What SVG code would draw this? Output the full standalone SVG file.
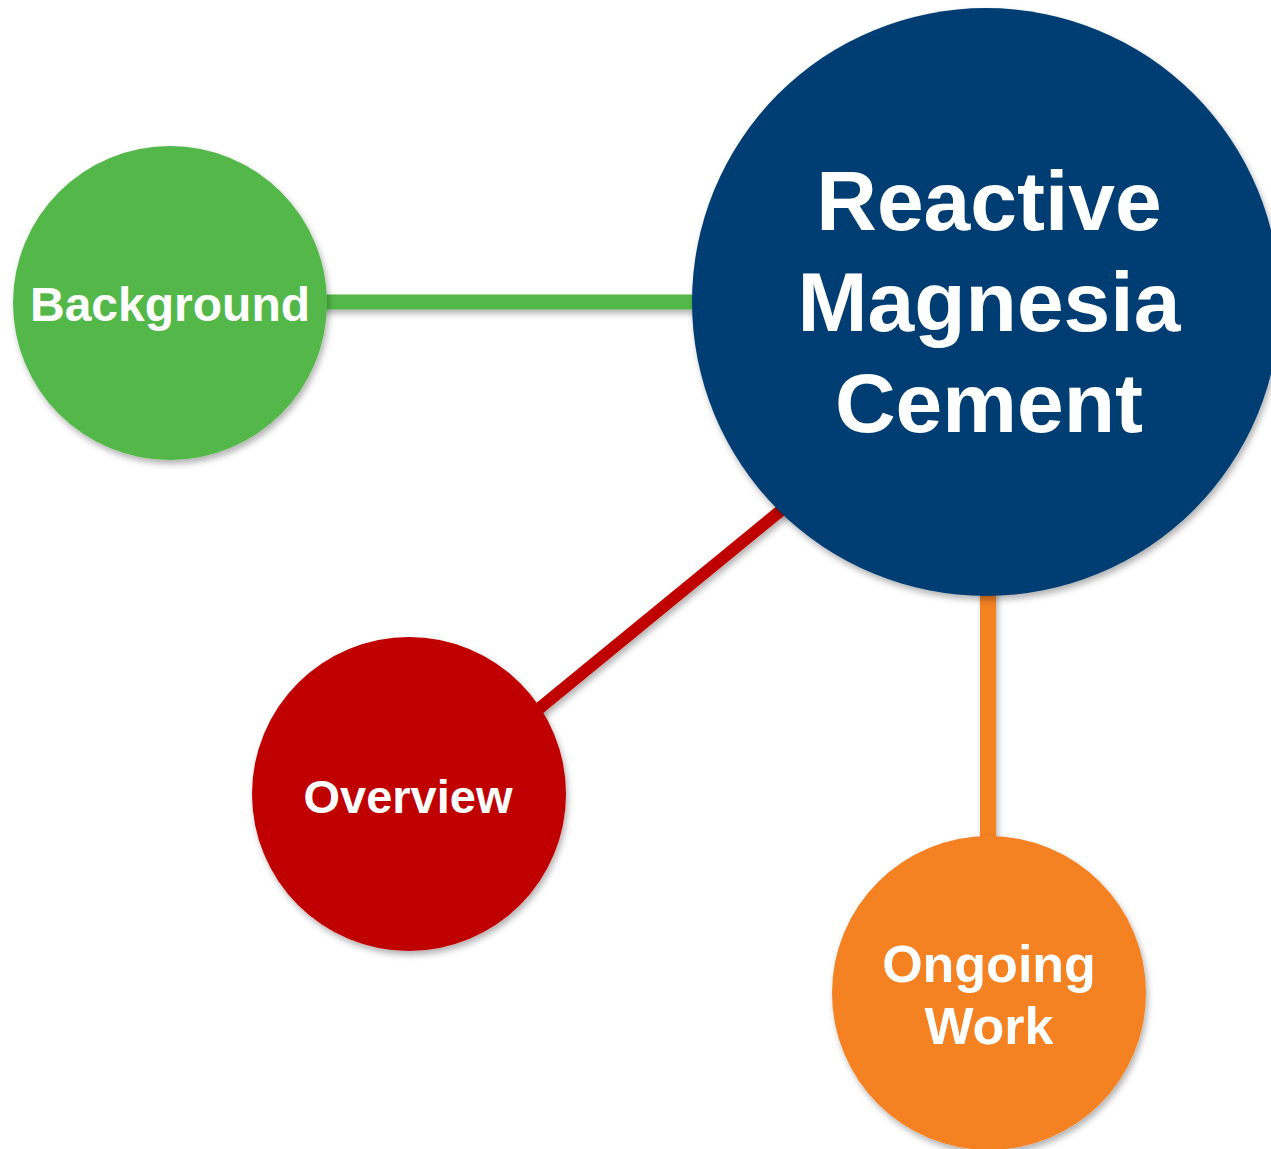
<svg xmlns="http://www.w3.org/2000/svg" width="1271" height="1149" viewBox="0 0 1271 1149">
<defs>
<filter id="sh" filterUnits="userSpaceOnUse" x="0" y="0" width="1271" height="1149">
<feDropShadow dx="2" dy="4" stdDeviation="3" flood-color="#000" flood-opacity="0.3"/>
</filter>
<style>
text{font-family:"Liberation Sans",Arial,sans-serif;font-weight:bold;fill:#fff;text-anchor:middle}
.node circle{filter:url(#sh)}
.conn line{filter:url(#sh)}
</style>
</defs>
<rect width="1271" height="1149" fill="#fff"/>
<g id="connectors" class="conn">
<line x1="320" y1="302" x2="700" y2="302" stroke="#53B848" stroke-width="15"/>
<line x1="530" y1="716" x2="790" y2="503" stroke="#C00000" stroke-width="12"/>
<line x1="988" y1="590" x2="988" y2="845" stroke="#F48221" stroke-width="16"/>
</g>
<g id="node-center" class="node">
<circle cx="986" cy="302" r="294" fill="#033E73"/>
<text x="989" y="230" font-size="84">Reactive</text>
<text x="989" y="331" font-size="84">Magnesia</text>
<text x="989" y="432" font-size="84">Cement</text>
</g>
<g id="node-background" class="node">
<circle cx="170" cy="303" r="157" fill="#53B848"/>
<text x="170" y="321" font-size="48">Background</text>
</g>
<g id="node-overview" class="node">
<circle cx="409" cy="794" r="157" fill="#C00000"/>
<text x="408" y="813" font-size="47">Overview</text>
</g>
<g id="node-ongoing" class="node">
<circle cx="989" cy="993" r="157" fill="#F48221"/>
<text x="989" y="982" font-size="52">Ongoing</text>
<text x="989" y="1044" font-size="52">Work</text>
</g>
</svg>
